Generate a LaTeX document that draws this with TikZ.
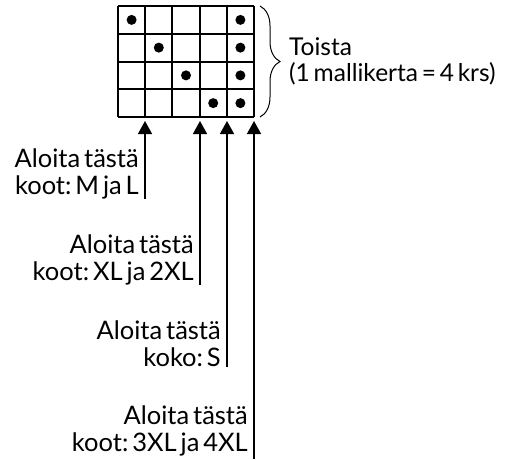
\documentclass[tikz,border=0pt]{standalone}
\usepackage{fontspec}
\setmainfont{Lato}[WordSpace=0.6]
\usepackage{tikz}
\usetikzlibrary{arrows.meta,positioning,calc,decorations.pathreplacing}

\begin{document}
\frenchspacing
\begin{tikzpicture}[x=1pt,y=1pt,
        lbl/.style={align=right, anchor=south east, inner sep=0pt, font=\fontsize{25.5}{27}\selectfont},
        arr/.style={line width=1.5pt, -{Triangle[width=14pt,length=13pt]}},
        dot/.style={circle, fill=black, minimum size=10pt, inner sep=0pt}]
        \useasboundingbox (0,0) rectangle (515,-459);

        % Chart grid (5 columns x 4 rows)
        \draw[line width=2pt, xstep=27.2, ystep=27.75, shift={(118,-117)}] (0,0) grid (136,111);

        % Dots
        \foreach \c/\r in {1/1,5/1,2/2,5/2,3/3,5/3,4/4,5/4}
            \node[dot] at ({118+27.2*(\c-0.5)},{-6-27.75*(\r-0.5)}) {};

        % Repeat brace
        \draw[line width=1pt, decorate, decoration={brace, amplitude=20pt, aspect=0.5}]
            (260,-6) -- (260,-117) coordinate[midway, xshift=21pt] (tip);
        \node[right=8pt of tip, align=left, inner sep=0pt, font=\fontsize{24.5}{26}\selectfont] (rep)
            {Toista\\(1 mallikerta = 4 krs)};

        % Start points
        \coordinate (g1) at (145,-121);
        \coordinate (g2) at (200,-121);
        \coordinate (g3) at (227,-121);
        \coordinate (g4) at (254,-121);
        \coordinate (e1) at (145,-199);
        \coordinate (e2) at (200,-285);
        \coordinate (e3) at (227,-367);
        \coordinate (e4) at (254,-459);

        \node[lbl] (lab1) at ($(e1)+(-6,0)$) {Aloita tästä\\koot: M ja L};
        \node[lbl] (lab2) at ($(e2)+(-6,0)$) {Aloita tästä\\koot: XL ja 2XL};
        \node[lbl] (lab3) at ($(e3)+(-6,0)$) {Aloita tästä\\koko: S};
        \node[lbl] (lab4) at ($(e4)+(-6,3)$) {Aloita tästä\\koot: 3XL ja 4XL};

        \foreach \i in {1,...,4}
            \draw[arr] (e\i) -- (g\i);
\end{tikzpicture}
\end{document}
